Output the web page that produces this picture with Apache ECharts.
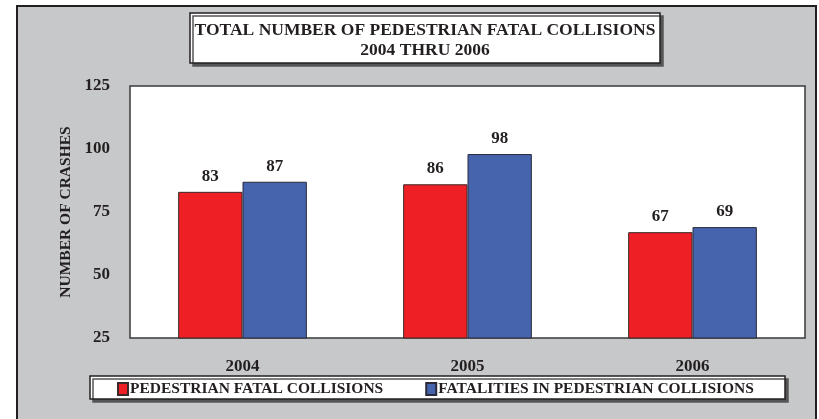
<!DOCTYPE html>
<html>
<head>
<meta charset="utf-8">
<script src="https://cdn.jsdelivr.net/npm/echarts@6/dist/echarts.min.js"></script>
<style>
html,body{margin:0;padding:0;background:#fff;}
#chart{width:819px;height:419px;}
</style>
</head>
<body>
<div id="chart"></div>
<script>
// data
var years = ['2004', '2005', '2006'];
var pedestrianCollisions = [83, 86, 67];
var pedestrianFatalities = [87, 98, 69];
var seriesNames = ['PEDESTRIAN FATAL COLLISIONS', 'FATALITIES IN PEDESTRIAN COLLISIONS'];

var serif = '"Liberation Serif", "DejaVu Serif", serif';

var chart = echarts.init(document.getElementById('chart'));

function barLabel(){
	return {
		show : true,
		position : 'top',
		distance : 7,
		fontFamily : serif,
		fontWeight : 'bold',
		fontSize : 17,
		color : '#231f20'
	};
}

var option = {
	animation : false,
	backgroundColor : '#ffffff',
	graphic : [
		{
			// outer frame
			type : 'rect',
			z : -10,
			shape : { x : 17, y : 6, width : 799, height : 430 },
			style : { fill : '#c7c8ca', stroke : '#231f20', lineWidth : 2 }
		},
		{
			// title box
			type : 'rect',
			z : 1,
			shape : { x : 190, y : 13, width : 470, height : 50 },
			style : {
				fill : '#ffffff', stroke : '#231f20', lineWidth : 1.5,
				shadowColor : '#555', shadowOffsetX : 3, shadowOffsetY : 3
			}
		},
		{
			// legend box
			type : 'rect',
			z : 1,
			shape : { x : 90, y : 376, width : 695, height : 23 },
			style : {
				fill : '#ffffff', stroke : '#231f20', lineWidth : 1.5,
				shadowColor : '#555', shadowOffsetX : 3, shadowOffsetY : 3
			}
		}
	],
	title : {
		text : 'TOTAL NUMBER OF PEDESTRIAN FATAL COLLISIONS\n2004 THRU 2006',
		left : 420,
		top : 15,
		textAlign : 'center',
		z : 5,
		textStyle : {
			fontFamily : serif,
			fontWeight : 'bold',
			fontSize : 17.5,
			lineHeight : 20,
			color : '#231f20'
		}
	},
	legend : {
		data : seriesNames,
		icon : 'rect',
		left : 112,
		top : 376,
		z : 5,
		itemWidth : 10,
		itemHeight : 12,
		itemGap : 42,
		textStyle : {
			fontFamily : serif,
			fontWeight : 'bold',
			fontSize : 15.5,
			color : '#231f20',
			padding : [0, 0, 0, -3]
		}
	},
	grid : {
		show : true,
		left : 130,
		right : 14,
		top : 86,
		bottom : 81,
		backgroundColor : '#ffffff',
		borderColor : '#3a3a3a',
		borderWidth : 1.5,
		z : 2
	},
	xAxis : {
		type : 'category',
		data : years,
		axisLine : { show : false },
		axisTick : { show : false },
		axisLabel : {
			margin : 20,
			fontFamily : serif,
			fontWeight : 'bold',
			fontSize : 17,
			color : '#231f20'
		}
	},
	yAxis : {
		type : 'value',
		min : 25,
		max : 125,
		interval : 25,
		name : 'NUMBER OF CRASHES',
		nameLocation : 'middle',
		nameGap : 52,
		nameTextStyle : {
			fontFamily : serif,
			fontWeight : 'bold',
			fontSize : 15.5,
			color : '#231f20'
		},
		axisLine : { show : false },
		axisTick : { show : false },
		splitLine : { show : false },
		axisLabel : {
			margin : 20,
			fontFamily : serif,
			fontWeight : 'bold',
			fontSize : 17,
			color : '#231f20'
		}
	},
	series : [
		{
			name : seriesNames[0],
			type : 'bar',
			data : pedestrianCollisions,
			barWidth : '28.6%',
			barGap : '0%',
			z : 3,
			itemStyle : { color : '#ee1f25', borderColor : '#3a2a2a', borderWidth : 1 },
			label : barLabel()
		},
		{
			name : seriesNames[1],
			type : 'bar',
			data : pedestrianFatalities,
			barWidth : '28.6%',
			barGap : '0%',
			z : 3,
			itemStyle : { color : '#4664ad', borderColor : '#2a2a3a', borderWidth : 1 },
			label : barLabel()
		}
	]
};

chart.setOption(option);
</script>
</body>
</html>
